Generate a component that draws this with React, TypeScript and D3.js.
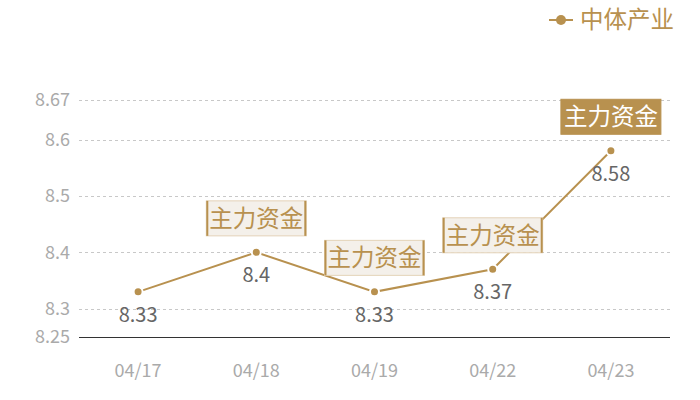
import React from "react";
import { scaleBand, scaleLinear, line } from "d3";

const dates = ["04/17", "04/18", "04/19", "04/22", "04/23"];
const values = [8.33, 8.4, 8.33, 8.37, 8.58];
const yTicks = [8.25, 8.3, 8.4, 8.5, 8.6, 8.67];
// which points carry a "主力资金" tag, and which one is highlighted
const tagged = [false, true, true, true, true];
const highlighted = [false, false, false, false, true];
const seriesName = "中体产业";
const tagText = "主力资金";

const GOLD = "#b8914f";
const FONT = "'Noto Sans CJK SC', 'Noto Sans', sans-serif";

export default function App() {
  const width = 700;
  const height = 400;
  const margin = { top: 100, right: 30, bottom: 63, left: 79 };

  const x = scaleBand<string>()
    .domain(dates)
    .range([margin.left, width - margin.right]);

  const y = scaleLinear()
    .domain([8.25, 8.67])
    .range([height - margin.bottom, margin.top]);

  const cx = (d: string) => (x(d) ?? 0) + x.bandwidth() / 2;

  const pts = dates.map((d, i) => ({ date: d, value: values[i] }));
  const path = line<{ date: string; value: number }>()
    .x((d) => cx(d.date))
    .y((d) => y(d.value));

  const boxW = 100;
  const boxH = 35;

  return (
    <div style={{ position: "absolute", left: 0, top: 0 }}>
      <svg width={width} height={height} style={{ display: "block", fontFamily: FONT }}>
        {/* grid */}
        {yTicks.slice(1).map((t) => (
          <line
            key={t}
            x1={margin.left}
            x2={width - margin.right}
            y1={Math.round(y(t)) + 0.5}
            y2={Math.round(y(t)) + 0.5}
            stroke="#c8c8c8"
            strokeDasharray="3,3"
          />
        ))}
        <line
          x1={margin.left}
          x2={width - margin.right}
          y1={Math.round(y(8.25)) + 0.5}
          y2={Math.round(y(8.25)) + 0.5}
          stroke="#333"
          strokeWidth={1}
        />
        {/* y labels */}
        {yTicks.map((t) => (
          <text
            key={t}
            x={70}
            y={y(t)}
            dy="0.35em"
            textAnchor="end"
            fill="#aaa"
            fontSize={18}
          >
            {t}
          </text>
        ))}
        {/* x labels */}
        {dates.map((d) => (
          <text
            key={d}
            x={cx(d)}
            y={371}
            dy="0.35em"
            textAnchor="middle"
            fill="#aaa"
            fontSize={18}
          >
            {d}
          </text>
        ))}
        {/* line */}
        <path d={path(pts) ?? ""} fill="none" stroke={GOLD} strokeWidth={2} />
        {pts.map((p) => (
          <circle
            key={p.date}
            cx={cx(p.date)}
            cy={y(p.value)}
            r={4.5}
            fill={GOLD}
            stroke="#fff"
            strokeWidth={2}
          />
        ))}
        {/* value labels */}
        {pts.map((p) => (
          <text
            key={p.date}
            x={cx(p.date)}
            y={y(p.value) + 23}
            dy="0.35em"
            textAnchor="middle"
            fill="#666"
            fontSize={20}
          >
            {p.value}
          </text>
        ))}
        {/* tags */}
        {pts.map((p, i) => {
          if (!tagged[i]) return null;
          const bx = cx(p.date) - boxW / 2;
          const by = y(p.value) - 34 - boxH / 2;
          const hi = highlighted[i];
          return (
            <g key={p.date}>
              <rect
                x={bx}
                y={by}
                width={boxW}
                height={boxH}
                fill={hi ? GOLD : "#f4f0ea"}
                stroke={hi ? GOLD : "#e3d3b8"}
                strokeWidth={1}
              />
              {!hi && (
                <>
                  <line x1={bx + 1} x2={bx + 1} y1={by} y2={by + boxH} stroke={GOLD} strokeWidth={2} />
                  <line x1={bx + boxW - 1} x2={bx + boxW - 1} y1={by} y2={by + boxH} stroke={GOLD} strokeWidth={2} />
                </>
              )}
              <text
                x={bx + boxW / 2}
                y={by + boxH / 2}
                dy="0.36em"
                textAnchor="middle"
                fill={hi ? "#fff" : GOLD}
                fontSize={23.5}
              >
                {tagText}
              </text>
            </g>
          );
        })}
        {/* legend */}
        <g transform="translate(549, 20)">
          <line x1={0} x2={24} y1={0} y2={0} stroke={GOLD} strokeWidth={2} />
          <circle cx={12} cy={0} r={5} fill={GOLD} />
          <text x={31} y={0} dy="0.36em" fill={GOLD} fontSize={23.5}>
            {seriesName}
          </text>
        </g>
      </svg>
    </div>
  );
}
